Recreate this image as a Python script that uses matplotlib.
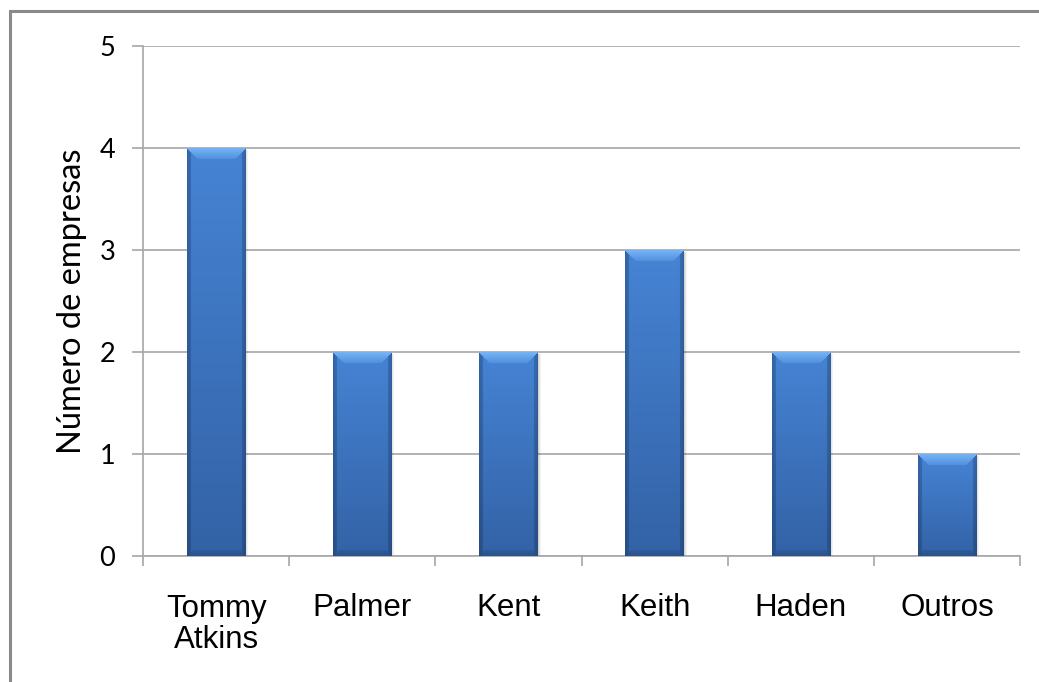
import numpy as np
import matplotlib
matplotlib.use("Agg")
import matplotlib.pyplot as plt
from matplotlib.patches import Rectangle
from matplotlib.colors import to_rgb

# Data
varieties = ["Tommy\nAtkins", "Palmer", "Kent", "Keith", "Haden", "Outros"]
companies = [4, 2, 2, 3, 2, 1]
y_ticks = [0, 1, 2, 3, 4, 5]
y_label = "Número de empresas"

W_PX, H_PX, DPI = 1039, 682, 100
fig = plt.figure(figsize=(W_PX / DPI, H_PX / DPI), dpi=DPI)
fig.patch.set_facecolor("white")

ax = fig.add_axes([143 / W_PX, 126 / H_PX, (1020 - 143) / W_PX, 510 / H_PX])
ax.set_facecolor("white")

x = np.arange(len(varieties))
bar_width = 0.4
bars = ax.bar(x, companies, width=bar_width, color="#3f78c6", edgecolor="none", zorder=3)

ax.set_xlim(-0.5, len(varieties) - 0.5)
ax.set_ylim(0, 5)

# pixel scale of the axes, used to shade each bar
px_per_unit_y = 510 / 5
px_per_unit_x = (1020 - 143) / len(varieties)


def mix(c1, c2, t):
    c1, c2 = np.array(to_rgb(c1)), np.array(to_rgb(c2))
    return c1 + (c2 - c1) * t


def bar_shading(h_px, w_px):
    h_px, w_px = int(round(h_px)), int(round(w_px))
    img = np.zeros((h_px, w_px, 3))
    bevel, side, bottom = 11, 4, 6
    for r in range(h_px):
        t = r / max(h_px - 1, 1)
        main = mix("#4684d4", "#3362a6", t)
        for c in range(w_px):
            dl, dr = c, w_px - 1 - c
            ds = min(dl, dr)
            db = h_px - 1 - r
            if r < bevel and r <= ds:
                col = mix("#76b3f5", "#4f8edc", r / bevel)
            elif ds < side:
                col = mix("#3a6fb8", "#2b5590", t) * (0.9 + 0.1 * ds / side)
            elif db < bottom and db <= ds:
                col = mix("#2f5c9c", "#2a5390", 1 - db / bottom)
            else:
                col = main
            img[r, c] = col
    return img


for rect, val in zip(bars, companies):
    x0 = rect.get_x()
    w = rect.get_width()
    h = rect.get_height()
    img = bar_shading(h * px_per_unit_y, w * px_per_unit_x)
    im = ax.imshow(img, extent=(x0, x0 + w, 0, h), aspect="auto",
                   interpolation="bilinear", zorder=4)
    im.set_clip_path(rect)
    # soft shadow on the right side of each bar
    for k, a in enumerate([0.18, 0.10, 0.05]):
        ax.add_patch(Rectangle((x0 + w + k / px_per_unit_x, 0), 1 / px_per_unit_x,
                               h - 2 / px_per_unit_y, facecolor="black", alpha=a,
                               edgecolor="none", zorder=2))

ax.set_xlim(-0.5, len(varieties) - 0.5)
ax.set_ylim(0, 5)

# grid and axes
grid_color = "#a6a6a6"
ax.set_yticks(y_ticks)
ax.yaxis.grid(True, color=grid_color, linewidth=1.2, zorder=1)
ax.set_axisbelow(True)
for s in ["top", "right"]:
    ax.spines[s].set_visible(False)
for s in ["left", "bottom"]:
    ax.spines[s].set_color(grid_color)
    ax.spines[s].set_linewidth(1.2)

ax.set_xticks(np.arange(-0.5, len(varieties), 1.0), minor=False)
ax.set_xticklabels([])
ax.set_xticks(x, minor=True)
ax.set_xticklabels(varieties, minor=True, fontfamily="Liberation Sans", fontsize=22.5,
                   linespacing=1.05)
ax.tick_params(axis="x", which="major", direction="out", length=7, width=1.2,
               color=grid_color)
ax.tick_params(axis="x", which="minor", length=0, pad=27)
ax.tick_params(axis="y", direction="out", length=8, width=1.2, color=grid_color,
               pad=12, labelsize=19.5)
for lbl in ax.get_yticklabels():
    lbl.set_fontfamily("Lato")

ax.set_ylabel(y_label, fontfamily="Lato", fontsize=23.5, labelpad=9)

# chart frame
fig.patches.append(Rectangle((10 / W_PX, -0.05), 1.2, 1 - 11 / H_PX + 0.05,
                             transform=fig.transFigure, fill=False,
                             edgecolor="#8a8a8a", linewidth=2.2, zorder=10))

fig.savefig("out.png", dpi=DPI, facecolor="white")
